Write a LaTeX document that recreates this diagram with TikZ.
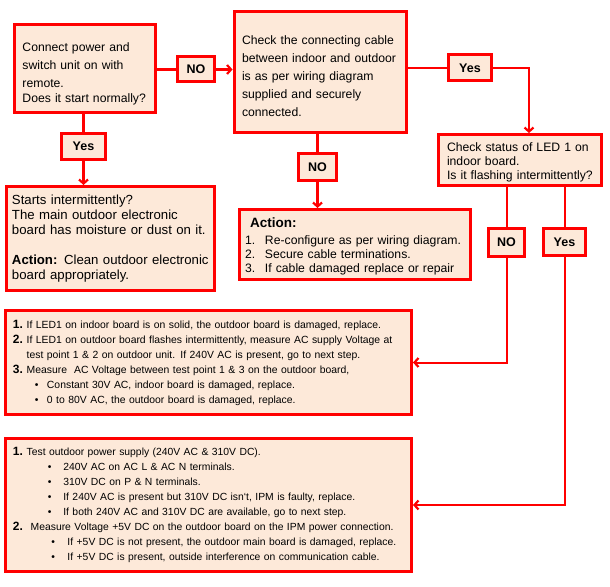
\documentclass[tikz,border=0pt]{standalone}
\usepackage{fontspec}
\setmainfont{Liberation Sans}
\usetikzlibrary{arrows.meta}
\definecolor{boxred}{RGB}{255,0,0}
\definecolor{peach}{RGB}{253,233,217}
\newcommand\mytopstrut[1]{\rule{0pt}{#1}}
\begin{document}
\begin{tikzpicture}[x=1bp,y=-1bp,
  box/.style={draw=boxred, fill=peach, line width=3bp, align=left, inner ysep=0pt, anchor=center},
  lbl/.style={draw=boxred, fill=peach, line width=3bp, inner sep=0pt, anchor=center,
    font=\fontsize{12.5bp}{14bp}\selectfont\bfseries},
  conn/.style={draw=boxred, line width=2.5bp},
  thinconn/.style={draw=boxred, line width=2bp},
  barb/.style={-{Straight Barb[length=4bp,width=9bp,line width=2.2bp]}}
]
\useasboundingbox (0,0) rectangle (610,587);

% main boxes
\node[box, text width=125bp, inner xsep=8bp, minimum height=88bp,
  font=\fontsize{12.2bp}{18bp}\selectfont] (A) at (85,68.5)
  {\mytopstrut{20bp}Connect power and\\ switch unit on with\\ remote.\\[-3bp] Does it start normally?};

\node[box, text width=156bp, inner xsep=8bp, minimum height=121bp,
  font=\fontsize{12.2bp}{18bp}\selectfont] (B) at (320,72)
  {\mytopstrut{17bp}Check the connecting cable\\ between indoor and outdoor\\ is as per wiring diagram\\ supplied and securely\\ connected.};

\node[box, text width=146bp, inner xsep=8.5bp, minimum height=51bp,
  font=\fontsize{12.2bp}{14bp}\selectfont] (C) at (520,160)
  {\mytopstrut{14bp}Check status of LED 1 on\\ indoor board.\\ Is it flashing intermittently?};

\node[box, text width=197bp, inner xsep=5.5bp, minimum height=104bp,
  font=\fontsize{13.2bp}{15bp}\selectfont] (E) at (110.5,238.5)
  {Starts intermittently?\\ The main outdoor electronic\\ board has moisture or dust on it.\\[15bp]
   \textbf{Action:} Clean outdoor electronic\\ board appropriately.};

\node[box, text width=220bp, inner xsep=5.5bp, minimum height=70bp,
  font=\fontsize{12.2bp}{14bp}\selectfont] (D) at (355,244.5)
  {\mytopstrut{14bp}\hspace*{5bp}{\fontsize{13.5bp}{14bp}\selectfont\bfseries Action:}\\[3bp]
   \makebox[20bp][l]{1.}Re-configure as per wiring diagram.\\
   \makebox[20bp][l]{2.}Secure cable terminations.\\
   \makebox[20bp][l]{3.}If cable damaged replace or repair};

\node[box, text width=391bp, inner xsep=7.5bp, minimum height=104bp,
  font=\fontsize{10.4bp}{15bp}\selectfont] (F) at (208.5,362.5)
  {\makebox[13.7bp][l]{\fontsize{12bp}{15bp}\selectfont\bfseries 1.}If LED1 on indoor board is on solid, the outdoor board is damaged, replace.\\
   \makebox[13.7bp][l]{\fontsize{12bp}{15bp}\selectfont\bfseries 2.}If LED1 on outdoor board flashes intermittently, measure AC supply Voltage at\\
   \hspace*{13.7bp}test point 1 \& 2 on outdoor unit. If 240V AC is present, go to next step.\\
   \makebox[13.7bp][l]{\fontsize{12bp}{15bp}\selectfont\bfseries 3.}Measure\ \ AC Voltage between test point 1 \& 3 on the outdoor board,\\
   \hspace*{22bp}\makebox[12bp][l]{\textbullet}Constant 30V AC, indoor board is damaged, replace.\\
   \hspace*{22bp}\makebox[12bp][l]{\textbullet}0 to 80V AC, the outdoor board is damaged, replace.};

\node[box, text width=391bp, inner xsep=7.5bp, minimum height=133bp,
  font=\fontsize{10.35bp}{14.9bp}\selectfont] (G) at (208.5,505)
  {\makebox[13.7bp][l]{\fontsize{12bp}{15bp}\selectfont\bfseries 1.}Test outdoor power supply (240V AC \& 310V DC).\\
   \hspace*{35bp}\makebox[15.3bp][l]{\textbullet}240V AC on AC L \& AC N terminals.\\
   \hspace*{35bp}\makebox[15.3bp][l]{\textbullet}310V DC on P \& N terminals.\\
   \hspace*{35bp}\makebox[15.3bp][l]{\textbullet}If 240V AC is present but 310V DC isn`t, IPM is faulty, replace.\\
   \hspace*{35bp}\makebox[15.3bp][l]{\textbullet}If both 240V AC and 310V DC are available, go to next step.\\
   \makebox[17.7bp][l]{\fontsize{12bp}{15bp}\selectfont\bfseries 2.}Measure Voltage +5V DC on the outdoor board on the IPM power connection.\\
   \hspace*{38.5bp}\makebox[16bp][l]{\textbullet}If +5V DC is not present, the outdoor main board is damaged, replace.\\
   \hspace*{38.5bp}\makebox[16bp][l]{\textbullet}If +5V DC is present, outside interference on communication cable.};

% labels
\node[lbl, minimum width=37bp, minimum height=25bp] (NO1) at (196,69.5) {NO};
\node[lbl, minimum width=43bp, minimum height=26bp] (Yes1) at (470,68) {Yes};
\node[lbl, minimum width=44bp, minimum height=26bp] (Yes2) at (83.5,146.5) {Yes};
\node[lbl, minimum width=38bp, minimum height=27bp] (NO2) at (317.5,167) {NO};
\node[lbl, minimum width=36bp, minimum height=28bp] (NO3) at (506.5,242.5) {NO};
\node[lbl, minimum width=42bp, minimum height=27bp] (Yes3) at (564.5,242) {Yes};

% connectors
\draw[conn] (A.east |- NO1) -- (NO1.west);
\draw[conn, barb] (NO1.east) -- (NO1.east -| B.west);
\draw[conn] (B.east |- Yes1) -- (Yes1.west);
\draw[conn, barb] (Yes1.east) -| ([xshift=9bp]C.north);
\draw[conn] (A.south -| Yes2) -- (Yes2.north);
\draw[conn, barb] (Yes2.south) -- (Yes2.south |- E.north);
\draw[conn] (B.south -| NO2) -- (NO2.north);
\draw[conn, barb] (NO2.south) -- (NO2.south |- D.north);
\draw[thinconn] (C.south -| NO3) -- (NO3.north);
\draw[thinconn, barb] (NO3.south) |- (F.east);
\draw[thinconn] (C.south -| Yes3) -- (Yes3.north);
\draw[thinconn, barb] (Yes3.south) |- (G.east);
\end{tikzpicture}
\end{document}
